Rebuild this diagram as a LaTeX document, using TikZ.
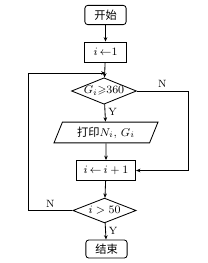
\documentclass[tikz,border=0pt]{standalone}
\usepackage{amsmath,amssymb}
\usepackage{fontspec}
\newfontfamily\cjk{Noto Sans CJK SC}
\usepackage{tikz}
\usetikzlibrary{arrows.meta,shapes.geometric}
\tikzset{
  ar/.style={-{Stealth[length=1.1mm,width=0.9mm]},semithick},
  term/.style={draw,semithick,rounded corners=2pt,minimum width=1.03cm,minimum height=0.48cm,inner sep=0pt,font=\fontsize{8}{9}\selectfont},
  box/.style={draw,semithick,minimum height=0.5cm,inner sep=0pt,font=\fontsize{8}{9}\selectfont},
  dec/.style={draw,semithick,diamond,aspect=2.6,inner sep=0pt,font=\fontsize{8}{9}\selectfont},
  io/.style={draw,semithick,trapezium,trapezium left angle=54,trapezium right angle=126,trapezium stretches body,minimum width=2.6cm,minimum height=0.52cm,inner sep=0pt,font=\fontsize{8}{9}\selectfont},
  lbl/.style={font=\fontsize{7.5}{9}\selectfont,inner sep=0pt}
}

\begin{document}
\begin{tikzpicture}[x=0.025cm,y=-0.025cm]
\useasboundingbox (0,0) rectangle (208,263);
% boxes
\node[term] (start) at (105.5,15) {\cjk 开始};
\node[box,minimum width=1.03cm] (init) at (105.5,52) {$i\,{\leftarrow}1$};
\node[dec,minimum width=1.55cm,minimum height=0.66cm] (test1) at (104,91) {$G_i{\geqslant}360$};
\node[io] (print) at (106,132.5) {{\cjk 打印}$N_i$, $G_i$};
\node[box,minimum width=1.48cm] (incr) at (106,170.5) {$i\,{\leftarrow}\,i+1$};
\node[dec,minimum width=1.58cm,minimum height=0.62cm] (test2) at (104.5,210.5) {$i>50$};
\node[term,minimum height=0.45cm] (stop) at (106.5,249) {\cjk 结束};
\coordinate (join) at (init.south |- 0,73);
% main line
\draw[ar] (start) -- (init);
\draw[ar] (init) -- (test1);
\draw[ar] (test1) -- node[lbl,right=2pt,pos=0.45] {Y} (print);
\draw[ar] (print) -- (incr);
\draw[ar] (incr) -- (test2);
\draw[ar] (test2) -- node[lbl,right=2pt,pos=0.45] {Y} (stop);
% branches
\draw[ar] (test1.east) -- node[lbl,above=2pt,pos=0.5] {N} (188,91) |- (incr.east);
\draw[ar] (test2.west) -- node[lbl,above=2pt,pos=0.5] {N} (28,210.5) |- (join);
\end{tikzpicture}
\end{document}
